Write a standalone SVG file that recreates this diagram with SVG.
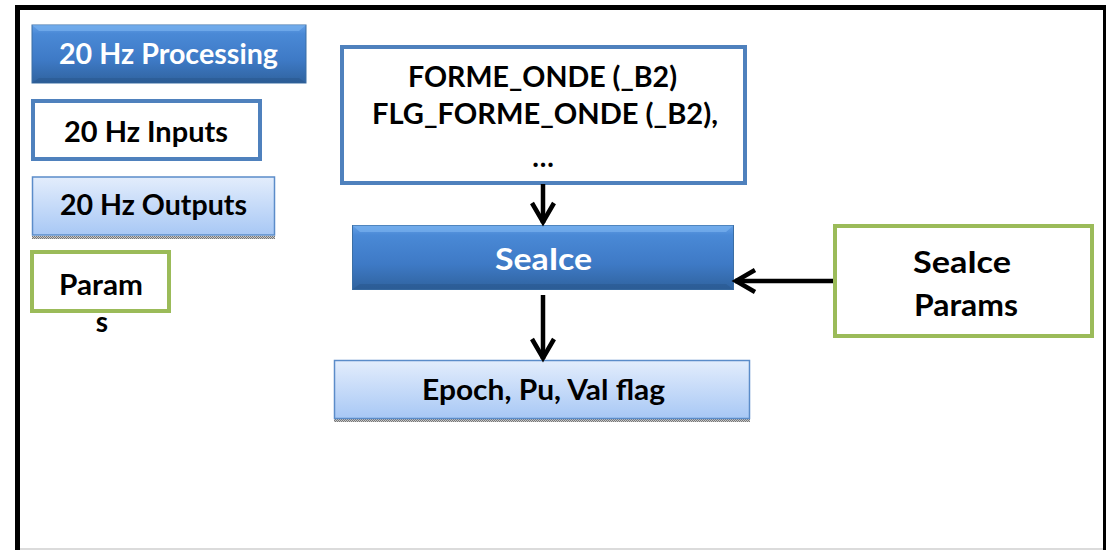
<svg xmlns="http://www.w3.org/2000/svg" width="1106" height="550" viewBox="0 0 1106 550">
<defs>
<style>
.t{font-family:Lato,"Liberation Sans",sans-serif;font-weight:700;text-anchor:middle;fill:#000}
.w{fill:#fff}
.inbox{fill:#fff;stroke:#4f81bd;stroke-width:4}
.prm{fill:#fff;stroke:#9bbb59;stroke-width:4}
.outbox{fill:url(#gOut);stroke:#5b8cc9;stroke-width:1.5}
.proc{fill:url(#gProc);stroke:#3a6ea5;stroke-width:1}
.conn{stroke:#000;stroke-width:4.5;fill:none;marker-end:url(#arr)}
</style>
<linearGradient id="gProc" x1="0" y1="0" x2="0" y2="1">
<stop offset="0" stop-color="#64a0e6"/>
<stop offset="0.15" stop-color="#4a89d6"/>
<stop offset="0.6" stop-color="#3e7ac6"/>
<stop offset="1" stop-color="#30639f"/>
</linearGradient>
<linearGradient id="gOut" x1="0" y1="0" x2="0" y2="1">
<stop offset="0" stop-color="#e3edfc"/>
<stop offset="1" stop-color="#a8c8f5"/>
</linearGradient>
<pattern id="hatch" width="2" height="2" patternUnits="userSpaceOnUse">
<rect width="2" height="2" fill="#c8c8c8"/>
<rect width="1" height="1" fill="#777"/>
<rect x="1" y="1" width="1" height="1" fill="#777"/>
</pattern>
<marker id="arr" markerUnits="userSpaceOnUse" viewBox="-26 -16 30 32" refX="0" refY="0" markerWidth="30" markerHeight="32" orient="auto">
<path d="M-20,-11 L-1,0 L-20,11" fill="none" stroke="#000" stroke-width="4.5"/>
</marker>
</defs>
<rect width="1106" height="550" fill="#fff"/>
<g id="frame">
<line x1="17.5" y1="5" x2="17.5" y2="550" stroke="#000" stroke-width="5"/>
<line x1="15" y1="7.5" x2="1106" y2="7.5" stroke="#000" stroke-width="5"/>
<line x1="1105" y1="5" x2="1105" y2="550" stroke="#000" stroke-width="4"/>
<line x1="20" y1="549" x2="1103" y2="549" stroke="#cfcfcf" stroke-width="1.5"/>
</g>
<g id="legend-processing">
<rect class="proc" x="32" y="25" width="274" height="58"/>
<polygon points="32,25 306,25 299,31 39,31" fill="#78b0ee" opacity="0.7"/>
<polygon points="32,83 306,83 299,78 39,78" fill="#28558c" opacity="0.5"/>
<text class="t w" x="168.5" y="64" font-size="28" textLength="219" lengthAdjust="spacingAndGlyphs">20 Hz Processing</text>
</g>
<g id="legend-inputs">
<rect class="inbox" x="33" y="101" width="227" height="58"/>
<text class="t" x="146" y="142" font-size="28" textLength="164" lengthAdjust="spacingAndGlyphs">20 Hz Inputs</text>
</g>
<g id="legend-outputs">
<rect x="32" y="236" width="243" height="3" fill="url(#hatch)"/>
<rect class="outbox" x="32.5" y="177" width="242" height="58"/>
<text class="t" x="153.5" y="215" font-size="28" textLength="187" lengthAdjust="spacingAndGlyphs">20 Hz Outputs</text>
</g>
<g id="legend-params">
<rect class="prm" x="32" y="252" width="137" height="59"/>
<text class="t" x="101" y="295" font-size="28" textLength="84" lengthAdjust="spacingAndGlyphs">Param</text>
<text class="t" x="102" y="332" font-size="28">s</text>
</g>
<g id="forme-onde">
<rect class="inbox" x="342" y="47" width="403" height="136"/>
<text class="t" x="542.5" y="87" font-size="28" textLength="269" lengthAdjust="spacingAndGlyphs">FORME_ONDE (_B2)</text>
<text class="t" x="545" y="124" font-size="28" textLength="346" lengthAdjust="spacingAndGlyphs">FLG_FORME_ONDE (_B2),</text>
<text class="t" x="543" y="167" font-size="28">…</text>
</g>
<g id="seaice">
<rect class="proc" x="352.5" y="225.5" width="381" height="64"/>
<polygon points="352.5,225.5 733.5,225.5 726,232 360,232" fill="#78b0ee" opacity="0.7"/>
<polygon points="352.5,289.5 733.5,289.5 726,284 360,284" fill="#28558c" opacity="0.5"/>
<text class="t w" x="543.5" y="270" font-size="31" textLength="97" lengthAdjust="spacingAndGlyphs">SeaIce</text>
</g>
<g id="epoch">
<rect x="334" y="419" width="416" height="3" fill="url(#hatch)"/>
<rect class="outbox" x="334.5" y="360.5" width="415" height="58"/>
<text class="t" x="543.5" y="400" font-size="28" textLength="243" lengthAdjust="spacingAndGlyphs">Epoch, Pu, Val flag</text>
</g>
<g id="seaice-params">
<rect class="prm" x="835" y="226" width="257" height="110"/>
<text class="t" x="962" y="273" font-size="31" textLength="98" lengthAdjust="spacingAndGlyphs">SeaIce</text>
<text class="t" x="966" y="316" font-size="31" textLength="104" lengthAdjust="spacingAndGlyphs">Params</text>
</g>
<g id="connectors">
<path class="conn" d="M543,184 L543,223"/>
<path class="conn" d="M543,295 L543,359"/>
<path class="conn" d="M833,281 L735,281"/>
</g>
</svg>
